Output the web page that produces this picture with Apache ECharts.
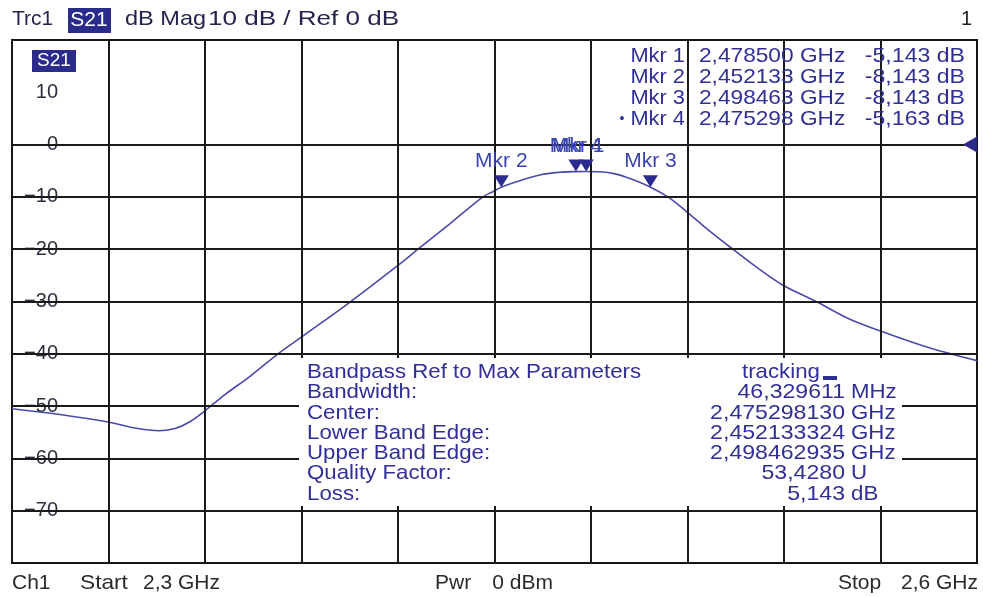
<!DOCTYPE html>
<html>
<head>
<meta charset="utf-8">
<script src="https://cdn.jsdelivr.net/npm/echarts@6/dist/echarts.min.js"></script>
<style>
html, body { margin: 0; padding: 0; background: #fff; }
#chart { width: 983px; height: 597px; }
</style>
</head>
<body>
<div id="chart"></div>
<script>
// trace S21 (GHz / dB)
var freqGHz = [2.3000, 2.3149, 2.3295, 2.3382, 2.3460, 2.3507, 2.3553, 2.3600, 2.3662, 2.3740,
    2.3827, 2.3895, 2.4051, 2.4206, 2.4262, 2.4362, 2.4464, 2.4495, 2.4521, 2.4579,
    2.4641, 2.4703, 2.4753, 2.4785, 2.4828, 2.4875, 2.4921, 2.4985, 2.5039, 2.5095,
    2.5170, 2.5241, 2.5325, 2.5400, 2.5503, 2.5605, 2.5698, 2.5854, 2.6000];
var s21dB = [-50.5, -51.6, -53.0, -54.2, -54.7, -54.3, -53.0, -50.9, -47.8, -44.3,
    -40.0, -37.0, -30.1, -22.8, -20.0, -15.1, -10.0, -9.0, -8.14, -6.9,
    -5.8, -5.3, -5.16, -5.14, -5.2, -5.6, -6.5, -8.14, -10.0, -12.7,
    -16.6, -20.0, -23.9, -27.0, -30.1, -33.4, -35.6, -38.9, -41.3];

var mkrNames = ['Mkr 1', 'Mkr 2', 'Mkr 3', 'Mkr 4'];
var mkrFreq = [2.478500, 2.452133, 2.498463, 2.475298];
var mkrDb = [-5.143, -8.143, -8.143, -5.163];
var mkrFreqText = ['2,478500 GHz', '2,452133 GHz', '2,498463 GHz', '2,475298 GHz'];
var mkrDbText = ['-5,143 dB', '-8,143 dB', '-8,143 dB', '-5,163 dB'];

var xGrid = [2.33, 2.36, 2.39, 2.42, 2.45, 2.48, 2.51, 2.54, 2.57];
var yGrid = [0, -10, -20, -30, -40, -50, -60, -70];

var bpLabels = ['Bandwidth:', 'Center:', 'Lower Band Edge:', 'Upper Band Edge:', 'Quality Factor:', 'Loss:'];
var bpValues = ['46,329611', '2,475298130', '2,452133324', '2,498462935', '53,4280', '5,143'];
var bpUnits = ['MHz', 'GHz', 'GHz', 'GHz', 'U', 'dB'];

var FONT = '"Liberation Sans", Arial, sans-serif';
var BLUE = '#2f2f96';

function txt(s, x, y, color, size, align, sx) {
    return {
        type: 'text', x: x, y: y, scaleX: sx || 1, z: 30,
        style: {
            text: s, fill: color, font: size + 'px ' + FONT,
            textAlign: align || 'left', align: align || 'left',
            textVerticalAlign: 'middle', verticalAlign: 'middle'
        }
    };
}

var graphics = [];
// header
graphics.push(txt('Trc1', 12, 19, '#24244e', 21));
graphics.push({ type: 'rect', z: 25, shape: { x: 68, y: 8, width: 43, height: 25 }, style: { fill: '#2b2b8c' } });
graphics.push(txt('S21', 89, 20, '#fff', 21, 'center'));
graphics.push(txt('dB Mag', 125, 19, '#24244e', 21, 'left', 1.12));
graphics.push(txt('10 dB / Ref 0 dB', 208, 19, '#24244e', 21, 'left', 1.24));
graphics.push(txt('1', 972, 19, '#222', 20, 'right'));
// trace tag inside the plot
graphics.push({ type: 'rect', z: 25, shape: { x: 32, y: 50, width: 44, height: 22 }, style: { fill: '#2b2b8c' } });
graphics.push(txt('S21', 54, 61, '#fff', 19, 'center'));

// marker table
var rowY = [56, 77, 98, 119];
for (var i = 0; i < 4; i++) {
    graphics.push(txt(mkrNames[i], 685, rowY[i], BLUE, 21, 'right', 1.04));
    graphics.push(txt(mkrFreqText[i], 699, rowY[i], BLUE, 21, 'left', 1.08));
    graphics.push(txt(mkrDbText[i], 965, rowY[i], BLUE, 21, 'right', 1.1));
}
graphics.push(txt('•', 622, rowY[3], BLUE, 14, 'center'));

// bandpass box (hides the grid behind it)
graphics.push({ type: 'rect', z: 20, shape: { x: 299, y: 358, width: 603, height: 148 }, style: { fill: '#fff' } });
graphics.push(txt('Bandpass Ref to Max Parameters', 307, 372, BLUE, 21, 'left', 1.06));
graphics.push(txt('tracking', 742, 372, BLUE, 21, 'left', 1.06));
graphics.push({ type: 'rect', z: 30, shape: { x: 823, y: 376, width: 14, height: 4 }, style: { fill: BLUE } });
for (var j = 0; j < bpLabels.length; j++) {
    var yy = 392.5 + j * 20.3;
    graphics.push(txt(bpLabels[j], 307, yy, BLUE, 21, 'left', 1.06));
    graphics.push(txt(bpValues[j], 845, yy, BLUE, 21, 'right', 1.1));
    graphics.push(txt(bpUnits[j], 851, yy, BLUE, 21, 'left', 1.06));
}

// footer
graphics.push(txt('Ch1', 12, 583, '#2a2a2a', 21));
graphics.push(txt('Start', 80, 583, '#2a2a2a', 21, 'left', 1.08));
graphics.push(txt('2,3 GHz', 220, 583, '#2a2a2a', 21, 'right'));
graphics.push(txt('Pwr', 435, 583, '#2a2a2a', 21));
graphics.push(txt('0 dBm', 553, 583, '#2a2a2a', 21, 'right'));
graphics.push(txt('Stop', 838, 583, '#2a2a2a', 21));
graphics.push(txt('2,6 GHz', 978, 583, '#2a2a2a', 21, 'right'));

var traceData = freqGHz.map(function (f, k) { return [f, s21dB[k]]; });

var gridLines = [];
xGrid.forEach(function (v) { gridLines.push({ xAxis: v }); });
yGrid.forEach(function (v) { gridLines.push({ yAxis: v }); });

var mkrPoints = mkrNames.map(function (n, k) {
    var p = { name: n, coord: [mkrFreq[k], mkrDb[k]] };
    if (n === 'Mkr 1') p.label = { offset: [-8, 0] };
    return p;
});

var myChart = echarts.init(document.getElementById('chart'));
var option = {
    backgroundColor: '#fff',
    animation: false,
    grid: {
        left: 12, top: 40, right: 6, bottom: 34,
        show: true, borderColor: '#161616', borderWidth: 2, backgroundColor: '#fff'
    },
    xAxis: {
        type: 'value', min: 2.3, max: 2.6,
        axisLine: { show: false }, axisTick: { show: false },
        axisLabel: { show: false }, splitLine: { show: false }
    },
    yAxis: {
        type: 'value', min: -80, max: 20, interval: 10, z: 2,
        axisLine: { show: false }, axisTick: { show: false },
        splitLine: { show: false },
        axisLabel: {
            inside: true, margin: 48, align: 'right',
            color: '#2e2e3e', fontSize: 20, fontFamily: 'Liberation Sans',
            backgroundColor: '#fff', padding: [0, 2, 0, 3],
            formatter: function (v) {
                if (v === 20 || v === -80) return '';
                return String(v).replace('-', '\u2212');
            }
        }
    },
    graphic: graphics,
    series: [
        {
            // grid (no 10 dB line on the screen)
            type: 'line', z: 1, data: traceData, showSymbol: false, silent: true,
            lineStyle: { opacity: 0 },
            markLine: {
                silent: true, symbol: ['none', 'none'], label: { show: false },
                lineStyle: { color: '#1a1a1a', width: 2, type: 'solid' },
                data: gridLines
            },
            markPoint: {
                silent: true,
                symbol: 'path://M10,0 L10,10 L0,5 Z', symbolSize: [14, 16], symbolOffset: [-7, 0],
                itemStyle: { color: '#2b2b8c' }, label: { show: false },
                data: [{ coord: [2.6, 0] }]
            }
        },
        {
            name: 'S21', type: 'line', z: 3, data: traceData,
            smooth: 0.35, showSymbol: false,
            lineStyle: { color: '#4a4aaa', width: 1.6 },
            markPoint: {
                symbol: 'path://M0,0 L10,0 L5,8 Z', symbolSize: [15, 12], symbolOffset: [0, -6],
                itemStyle: { color: '#2b2b8f' },
                label: {
                    show: true, position: 'top', distance: 3, formatter: '{b}',
                    color: '#3a44b0', fontSize: 21, fontFamily: 'Liberation Sans'
                },
                data: mkrPoints
            }
        }
    ]
};
myChart.setOption(option);
window.onresize = function () {
    myChart.resize();
};
</script>
</body>
</html>
